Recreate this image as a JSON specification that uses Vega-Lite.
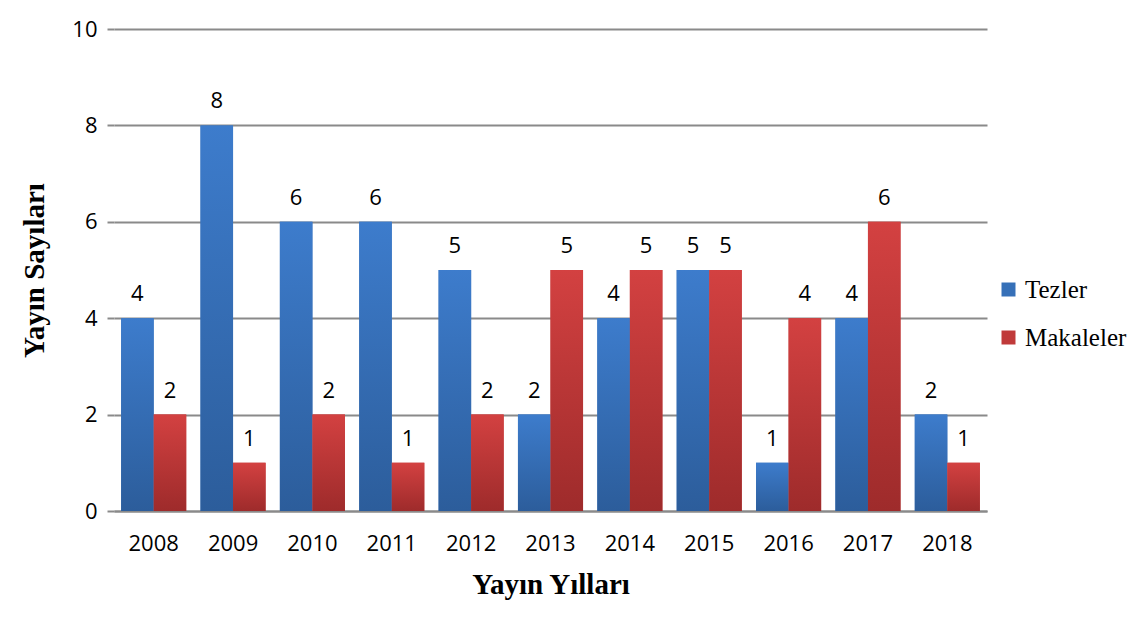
{
  "$schema": "https://vega.github.io/schema/vega-lite/v6.json",
  "width": 873,
  "height": 482,
  "autosize": {"type": "none"},
  "padding": {"left": 114, "top": 29, "right": 145, "bottom": 127},
  "background": "white",
  "config": {
    "view": {"stroke": null},
    "font": "Open Sans"
  },
  "data": {
    "values": [
      {"year": "2008", "series": "Tezler", "value": 4},
      {"year": "2008", "series": "Makaleler", "value": 2},
      {"year": "2009", "series": "Tezler", "value": 8},
      {"year": "2009", "series": "Makaleler", "value": 1},
      {"year": "2010", "series": "Tezler", "value": 6},
      {"year": "2010", "series": "Makaleler", "value": 2},
      {"year": "2011", "series": "Tezler", "value": 6},
      {"year": "2011", "series": "Makaleler", "value": 1},
      {"year": "2012", "series": "Tezler", "value": 5},
      {"year": "2012", "series": "Makaleler", "value": 2},
      {"year": "2013", "series": "Tezler", "value": 2},
      {"year": "2013", "series": "Makaleler", "value": 5},
      {"year": "2014", "series": "Tezler", "value": 4},
      {"year": "2014", "series": "Makaleler", "value": 5},
      {"year": "2015", "series": "Tezler", "value": 5},
      {"year": "2015", "series": "Makaleler", "value": 5},
      {"year": "2016", "series": "Tezler", "value": 1},
      {"year": "2016", "series": "Makaleler", "value": 4},
      {"year": "2017", "series": "Tezler", "value": 4},
      {"year": "2017", "series": "Makaleler", "value": 6},
      {"year": "2018", "series": "Tezler", "value": 2},
      {"year": "2018", "series": "Makaleler", "value": 1}
    ]
  },
  "encoding": {
    "x": {
      "field": "year", "type": "nominal",
      "scale": {"paddingInner": 0.18, "paddingOuter": 0.09},
      "axis": {
        "title": "Yayın Yılları", "labelAngle": 0, "ticks": false,
        "labelFont": "Open Sans", "labelFontSize": 22, "labelColor": "#000", "labelPadding": 22,
        "titleFont": "Liberation Serif", "titleFontSize": 29, "titleFontWeight": "bold", "titleColor": "#000", "titlePadding": 16,
        "domainColor": "#8a8a8a", "domainWidth": 2
      }
    },
    "xOffset": {"field": "series", "type": "nominal", "scale": {"domain": ["Tezler", "Makaleler"]}},
    "y": {
      "field": "value", "type": "quantitative",
      "scale": {"domain": [0, 10]},
      "axis": {
        "title": "Yayın Sayıları", "values": [0, 2, 4, 6, 8, 10], "labelOverlap": false,
        "domain": false, "tickColor": "#8a8a8a", "tickSize": 7, "tickWidth": 2,
        "gridColor": "#8a8a8a", "gridWidth": 2,
        "labelFont": "Open Sans", "labelFontSize": 22, "labelColor": "#000", "labelPadding": 10,
        "titleFont": "Liberation Serif", "titleFontSize": 29, "titleFontWeight": "bold", "titleColor": "#000", "titlePadding": 22
      }
    }
  },
  "layer": [
    {
      "mark": {"type": "bar"},
      "encoding": {
        "color": {
          "field": "series", "type": "nominal",
          "scale": {"domain": ["Tezler", "Makaleler"], "range": ["#3670b8", "#c03a3a"]},
          "legend": {
            "title": null, "orient": "none", "legendX": 882, "legendY": 248,
            "symbolType": "square", "symbolSize": 196, "symbolStrokeWidth": 0,
            "labelFont": "Liberation Serif", "labelFontSize": 25, "labelColor": "#000",
            "rowPadding": 22, "labelOffset": 4, "labelLimit": 300
          }
        }
      }
    },
    {
      "transform": [{"filter": "datum.series === 'Tezler'"}],
      "mark": {
        "type": "bar",
        "fill": {"gradient": "linear", "x1": 0, "y1": 0, "x2": 0, "y2": 1,
          "stops": [{"offset": 0, "color": "#3d7ccc"}, {"offset": 1, "color": "#2c5d9b"}]}
      }
    },
    {
      "transform": [{"filter": "datum.series === 'Makaleler'"}],
      "mark": {
        "type": "bar",
        "fill": {"gradient": "linear", "x1": 0, "y1": 0, "x2": 0, "y2": 1,
          "stops": [{"offset": 0, "color": "#d34141"}, {"offset": 1, "color": "#9e2b2b"}]}
      }
    },
    {
      "mark": {"type": "text", "baseline": "bottom", "dy": -12, "fontSize": 22, "font": "Open Sans", "color": "#000"},
      "encoding": {"text": {"field": "value", "type": "quantitative"}}
    }
  ]
}
